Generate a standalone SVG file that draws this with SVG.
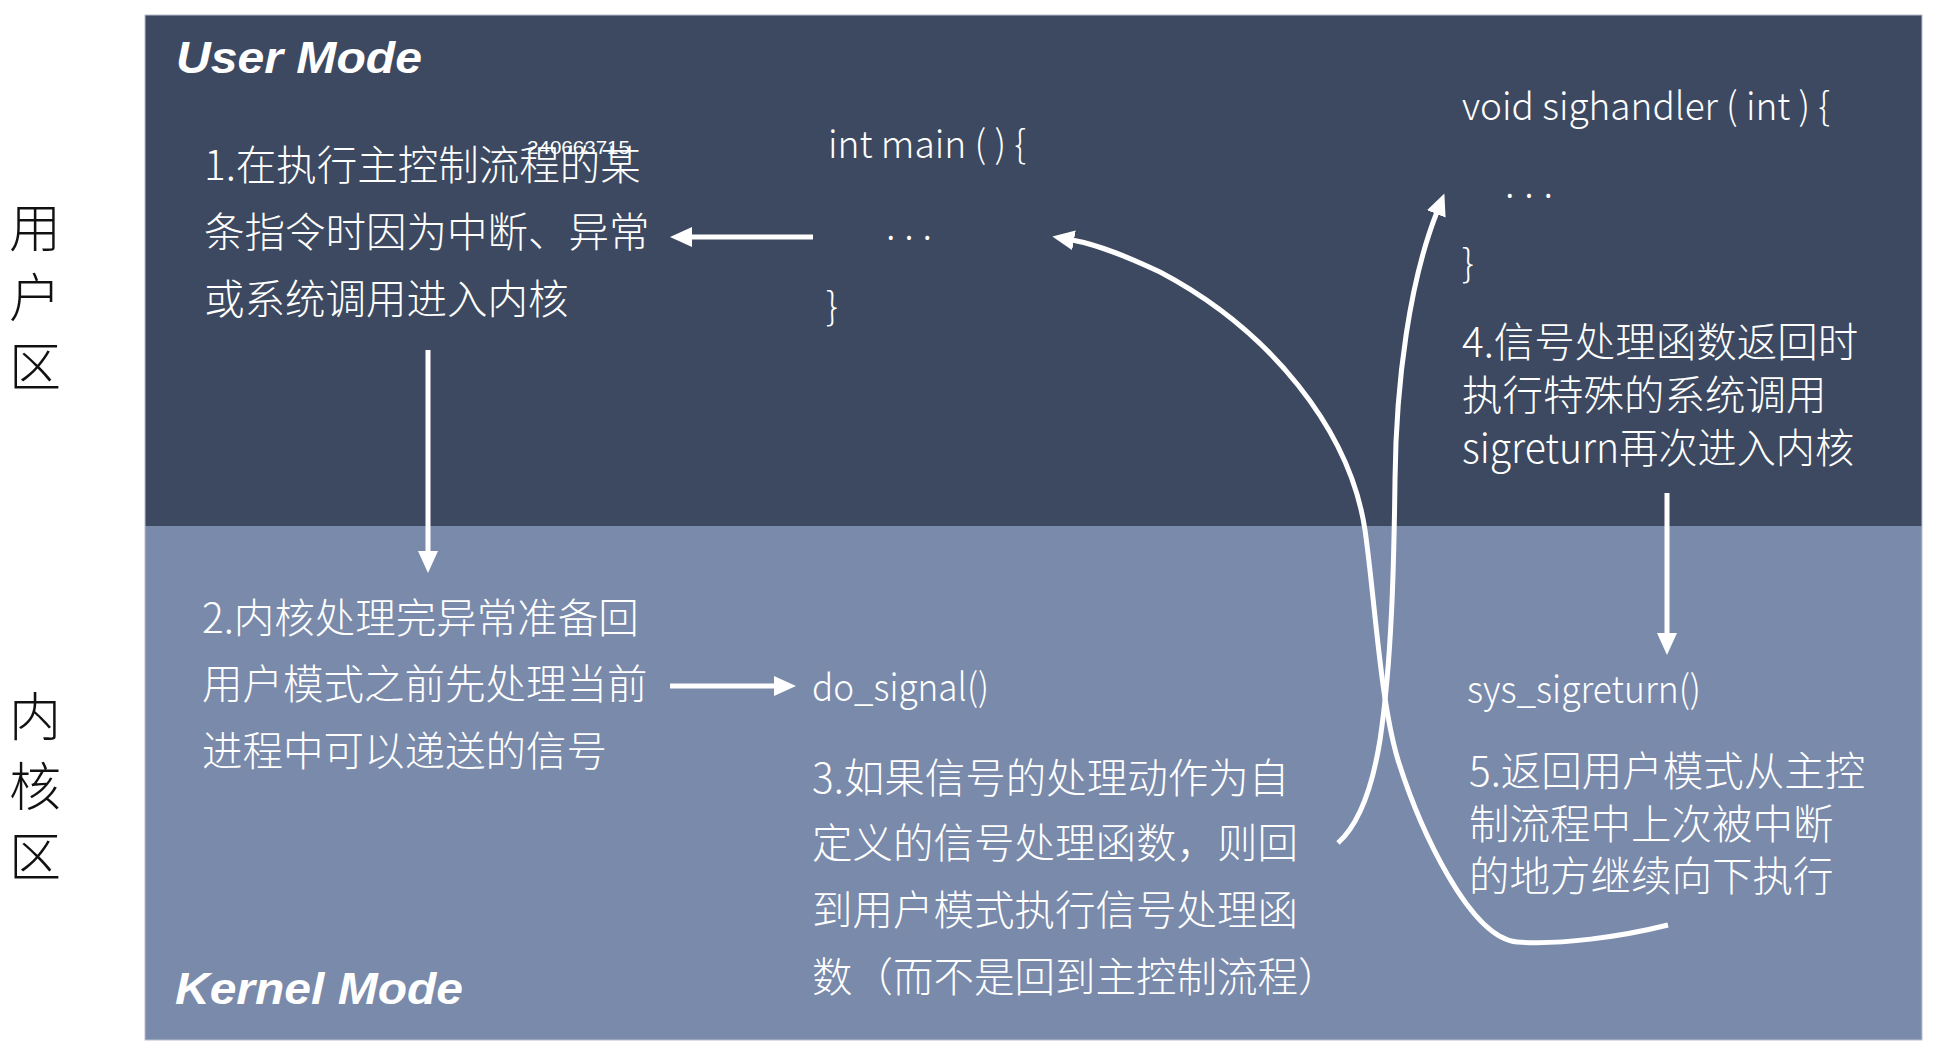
<svg xmlns="http://www.w3.org/2000/svg" width="1941" height="1062" viewBox="0 0 1941 1062">
<style>
.t{font-family:"Noto Sans CJK SC","Noto Sans",sans-serif;fill:#ffffff;font-size:40.5px;font-weight:300}
.c{font-family:"Noto Sans CJK SC","Noto Sans",sans-serif;fill:#ffffff;font-size:38px;font-weight:300}
.m{font-family:"Liberation Sans",Arial,sans-serif;fill:#ffffff;font-size:44px;font-weight:bold;font-style:italic}
.z{font-family:"Noto Sans CJK SC",sans-serif;fill:#111111;font-size:52px;font-weight:300;text-anchor:middle}
.w{font-family:"Liberation Sans",Arial,sans-serif;fill:#ffffff;font-size:19px}
.ln{fill:none;stroke:#ffffff;stroke-width:5}
</style>
<defs>
<marker id="ah" markerUnits="userSpaceOnUse" markerWidth="24" markerHeight="22" refX="2" refY="10" orient="auto">
<path d="M0,0 L22,10 L0,20 Z" fill="#ffffff"/>
</marker>
</defs>
<rect width="1941" height="1062" fill="#ffffff"/>
<g id="panel">
<rect x="145" y="15" width="1777" height="511" fill="#3d4960"/>
<rect x="145" y="526" width="1777" height="514" fill="#7a8aab"/>
<rect x="145" y="15" width="1777" height="1025" fill="none" stroke="#b8c0cc" stroke-width="1"/>
</g>
<g id="zone-user">
<text class="z" x="35" y="247">用</text>
<text class="z" x="35" y="317">户</text>
<text class="z" x="35" y="386">区</text>
</g>
<g id="zone-kernel">
<text class="z" x="35" y="736">内</text>
<text class="z" x="35" y="806">核</text>
<text class="z" x="35" y="876">区</text>
</g>
<g id="label-user-mode"><text class="m" x="176" y="73" textLength="246" lengthAdjust="spacingAndGlyphs">User Mode</text></g>
<g id="label-kernel-mode"><text class="m" x="175" y="1004" textLength="288" lengthAdjust="spacingAndGlyphs">Kernel Mode</text></g>
<g id="step1">
<text class="t" x="204" y="180">1.在执行主控制流程的某</text>
<text class="t" x="204" y="247">条指令时因为中断、异常</text>
<text class="t" x="204" y="314">或系统调用进入内核</text>
<text class="w" x="527" y="154" textLength="103" lengthAdjust="spacingAndGlyphs">240663715</text>
</g>
<g id="main">
<text class="c" x="828" y="158" textLength="198" lengthAdjust="spacingAndGlyphs">int main ( ) {</text>
<text class="c" x="886" y="240" textLength="46" lengthAdjust="spacing">. . .</text>
<text class="c" x="826" y="320">}</text>
</g>
<g id="step2">
<text class="t" x="202" y="633">2.内核处理完异常准备回</text>
<text class="t" x="202" y="699">用户模式之前先处理当前</text>
<text class="t" x="202" y="766">进程中可以递送的信号</text>
</g>
<g id="do-signal">
<text class="c" x="812" y="701" textLength="177" lengthAdjust="spacingAndGlyphs">do_signal()</text>
</g>
<g id="step3">
<text class="t" x="812" y="793">3.如果信号的处理动作为自</text>
<text class="t" x="812" y="858">定义的信号处理函数，则回</text>
<text class="t" x="812" y="925">到用户模式执行信号处理函</text>
<text class="t" x="812" y="992">数（而不是回到主控制流程）</text>
</g>
<g id="sighandler">
<text class="c" x="1462" y="120" textLength="368" lengthAdjust="spacingAndGlyphs">void sighandler ( int ) {</text>
<text class="c" x="1505" y="198" textLength="48" lengthAdjust="spacing">. . .</text>
<text class="c" x="1462" y="277">}</text>
</g>
<g id="step4">
<text class="t" x="1462" y="357">4.信号处理函数返回时</text>
<text class="t" x="1462" y="410">执行特殊的系统调用</text>
<text class="t" x="1462" y="463" textLength="392" lengthAdjust="spacingAndGlyphs">sigreturn再次进入内核</text>
</g>
<g id="sys-sigreturn">
<text class="c" x="1467" y="703" textLength="234" lengthAdjust="spacingAndGlyphs">sys_sigreturn()</text>
</g>
<g id="step5">
<text class="t" x="1469" y="786">5.返回用户模式从主控</text>
<text class="t" x="1469" y="839">制流程中上次被中断</text>
<text class="t" x="1469" y="891">的地方继续向下执行</text>
</g>
<g id="connectors">
<line class="ln" x1="813" y1="237" x2="690" y2="237" stroke-width="6" marker-end="url(#ah)"/>
<line class="ln" x1="428" y1="350" x2="428" y2="553" marker-end="url(#ah)"/>
<line class="ln" x1="670" y1="686" x2="776" y2="686" marker-end="url(#ah)"/>
<line class="ln" x1="1667" y1="493" x2="1667" y2="635" marker-end="url(#ah)"/>
<path class="ln" d="M1668,925 C1620,937 1560,945 1517,942 C1470,938 1420,830 1398,760 C1380,700 1375,600 1365,530 C1350,430 1270,330 1160,272 C1130,258 1100,245 1072,240" marker-end="url(#ah)"/>
<path class="ln" d="M1338,843 C1358,825 1372,790 1380,740 C1392,660 1394,560 1395,480 C1396,380 1410,280 1437,212" marker-end="url(#ah)"/>
</g>
</svg>
